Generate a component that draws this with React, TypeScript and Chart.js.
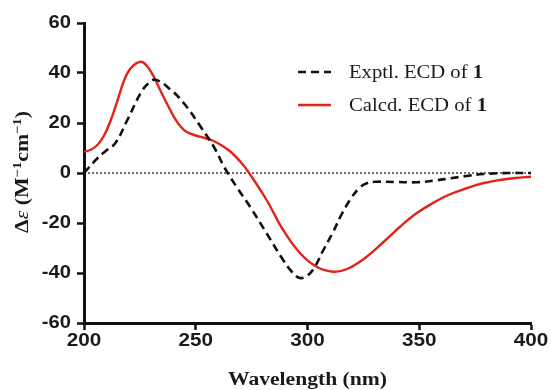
import React, { useEffect, useRef } from "react";
import { Chart, registerables } from "chart.js";

Chart.register(...registerables);

// Experimental ECD (black dashed)
const exptlX = [200, 206, 210, 214, 219.4, 225.3, 228.5, 232, 238.7, 244.7, 252.2, 258.2, 263, 268, 274.3, 281.7, 289.1, 293, 296.6, 300, 303, 307, 311.5, 315, 319, 323, 326.5, 331, 340, 349, 357, 364, 372, 378.7, 390, 400];
const exptlY = [0, 5.9, 9, 11.9, 21.2, 31.9, 35.6, 37.3, 33.4, 27.9, 18.5, 10.3, 2, -5.2, -13.5, -24.1, -34.8, -39.5, -42, -41, -38, -31, -23.5, -17, -10.8, -6.2, -4.1, -3.5, -3.6, -3.7, -3, -2.1, -1.1, -0.4, 0, 0];

// Calculated ECD (red)
const calcdX = [200, 203, 206, 209, 212, 215, 218, 221, 225.3, 228, 231.3, 234, 237.3, 240, 243.2, 246, 250, 254, 258, 262, 266, 270, 273.5, 281.7, 289.1, 296.6, 304.1, 311.5, 318, 326.5, 334, 341.4, 348, 356.3, 363, 371.2, 378, 386, 393, 400];
const calcdY = [8.5, 9.3, 11.2, 15, 21.2, 29, 37.2, 42, 44.5, 43, 38.4, 33.3, 27.4, 22.8, 18.6, 16.4, 15, 14, 12.8, 10.8, 8.2, 4.5, 0.5, -10.8, -22.8, -32, -37.5, -39.5, -38.3, -33.5, -27.6, -21.5, -16.6, -11.9, -8.8, -6.1, -4.2, -2.8, -2, -1.5];

const xTicks = [200, 250, 300, 350, 400];
const yTicks = [-60, -40, -20, 0, 20, 40, 60];

const legendLabels = ["Exptl. ECD of ", "Calcd. ECD of "];
const legendBold = "1";
const xTitle = "Wavelength (nm)";

const BLACK = "#111111";
const RED = "#e2231a";
const SERIF = '"Liberation Serif", "Times New Roman", serif';
const SANS = '"Liberation Sans", Arial, sans-serif';

function stretchText(ctx: CanvasRenderingContext2D, text: string, x: number, y: number, align: CanvasTextAlign, sx: number) {
  ctx.save();
  ctx.translate(x, y);
  ctx.scale(sx, 1);
  ctx.textAlign = align;
  ctx.fillText(text, 0, 0);
  ctx.restore();
}

type Seg = { t: string; font: string; dy: number };

function segWidth(ctx: CanvasRenderingContext2D, segs: Seg[]) {
  let w = 0;
  for (const s of segs) {
    ctx.font = s.font;
    w += ctx.measureText(s.t).width;
  }
  return w;
}

function drawSegs(ctx: CanvasRenderingContext2D, segs: Seg[], x: number, y: number, sx: number) {
  ctx.save();
  ctx.translate(x, y);
  ctx.scale(sx, 1);
  ctx.textAlign = "left";
  let cx = 0;
  for (const s of segs) {
    ctx.font = s.font;
    ctx.fillText(s.t, cx, s.dy);
    cx += ctx.measureText(s.t).width;
  }
  ctx.restore();
}

const decorPlugin = {
  id: "decor",
  beforeDatasetsDraw(chart: any) {
    const ctx = chart.ctx as CanvasRenderingContext2D;
    const { left, right } = chart.chartArea;
    const y0 = chart.scales.y.getPixelForValue(0);
    ctx.save();
    ctx.strokeStyle = BLACK;
    ctx.lineWidth = 1.2;
    ctx.setLineDash([2, 2]);
    ctx.beginPath();
    ctx.moveTo(left, y0);
    ctx.lineTo(right, y0);
    ctx.stroke();
    ctx.restore();
  },
  afterDraw(chart: any) {
    const ctx = chart.ctx as CanvasRenderingContext2D;
    const xs = chart.scales.x;
    const ys = chart.scales.y;
    ctx.save();
    ctx.fillStyle = "#1a1a1a";
    ctx.textBaseline = "middle";
    ctx.font = `bold 18px ${SANS}`;
    for (const v of xTicks) {
      stretchText(ctx, String(v), xs.getPixelForValue(v), 341, "center", 1.15);
    }
    for (const v of yTicks) {
      stretchText(ctx, String(v), 71, ys.getPixelForValue(v), "right", 1.12);
    }

    // x title
    ctx.font = `bold 18px ${SERIF}`;
    ctx.textBaseline = "alphabetic";
    const xw = ctx.measureText(xTitle).width;
    stretchText(ctx, xTitle, 307.5, 385, "center", 159 / xw);

    // y title (rotated)
    const big = `bold 18px ${SERIF}`;
    const sup = `bold 12px ${SERIF}`;
    const segs: Seg[] = [
      { t: "\u0394", font: big, dy: 0 },
      { t: "\u03b5", font: `italic 18px ${SERIF}`, dy: 0 },
      { t: " (M", font: big, dy: 0 },
      { t: "\u22121", font: sup, dy: -7 },
      { t: "cm", font: big, dy: 0 },
      { t: "\u22121", font: sup, dy: -7 },
      { t: ")", font: big, dy: 0 },
    ];
    const yw = segWidth(ctx, segs);
    const ysx = 122 / yw;
    ctx.save();
    ctx.translate(28, 172);
    ctx.rotate(-Math.PI / 2);
    drawSegs(ctx, segs, -61, 0, ysx);
    ctx.restore();

    // legend
    const items = [
      { label: legendLabels[0], color: BLACK, dash: [8, 5], y: 72, w: 134 },
      { label: legendLabels[1], color: RED, dash: [], y: 105, w: 138 },
    ];
    for (const it of items) {
      ctx.save();
      ctx.strokeStyle = it.color;
      ctx.lineWidth = 2.6;
      ctx.setLineDash(it.dash);
      ctx.beginPath();
      ctx.moveTo(298, it.y);
      ctx.lineTo(331, it.y);
      ctx.stroke();
      ctx.restore();
      const lsegs: Seg[] = [
        { t: it.label, font: `18px ${SERIF}`, dy: 0 },
        { t: legendBold, font: `bold 18px ${SERIF}`, dy: 0 },
      ];
      const lw = segWidth(ctx, lsegs);
      ctx.fillStyle = "#1a1a1a";
      drawSegs(ctx, lsegs, 349, it.y + 6, it.w / lw);
    }
    ctx.restore();
  },
};

export default function App() {
  const ref = useRef<HTMLCanvasElement | null>(null);
  useEffect(() => {
    document.body.style.margin = "0";
    const canvas = ref.current;
    if (!canvas) return;
    const gridCfg = {
      display: true,
      drawOnChartArea: false,
      drawTicks: true,
      tickLength: 7,
      tickWidth: 2.5,
      tickColor: BLACK,
      color: BLACK,
    };
    const chart = new Chart(canvas, {
      type: "scatter",
      data: {
        datasets: [
          {
            label: legendLabels[0] + legendBold,
            data: exptlX.map((x, i) => ({ x, y: exptlY[i] })),
            showLine: true,
            borderColor: BLACK,
            borderWidth: 2.6,
            borderDash: [8, 5],
            pointRadius: 0,
            tension: 0.4,
          },
          {
            label: legendLabels[1] + legendBold,
            data: calcdX.map((x, i) => ({ x, y: calcdY[i] })),
            showLine: true,
            borderColor: RED,
            borderWidth: 2.4,
            pointRadius: 0,
            tension: 0.4,
          },
        ],
      },
      options: {
        responsive: false,
        animation: false,
        devicePixelRatio: 1,
        layout: { padding: { left: 0, right: 20, top: 23, bottom: 0 } },
        plugins: { legend: { display: false }, tooltip: { enabled: false } },
        scales: {
          x: {
            type: "linear",
            min: 200,
            max: 400,
            ticks: { stepSize: 50, display: false },
            grid: gridCfg,
            border: { display: true, color: BLACK, width: 3 },
            afterFit: (s: any) => {
              s.height = 67;
            },
          },
          y: {
            type: "linear",
            min: -60,
            max: 60,
            ticks: { stepSize: 20, display: false },
            grid: gridCfg,
            border: { display: true, color: BLACK, width: 3 },
            afterFit: (s: any) => {
              s.width = 84;
            },
          },
        },
      } as any,
      plugins: [decorPlugin],
    });
    return () => chart.destroy();
  }, []);
  return <canvas ref={ref} width={551} height={390} style={{ display: "block" }} />;
}
